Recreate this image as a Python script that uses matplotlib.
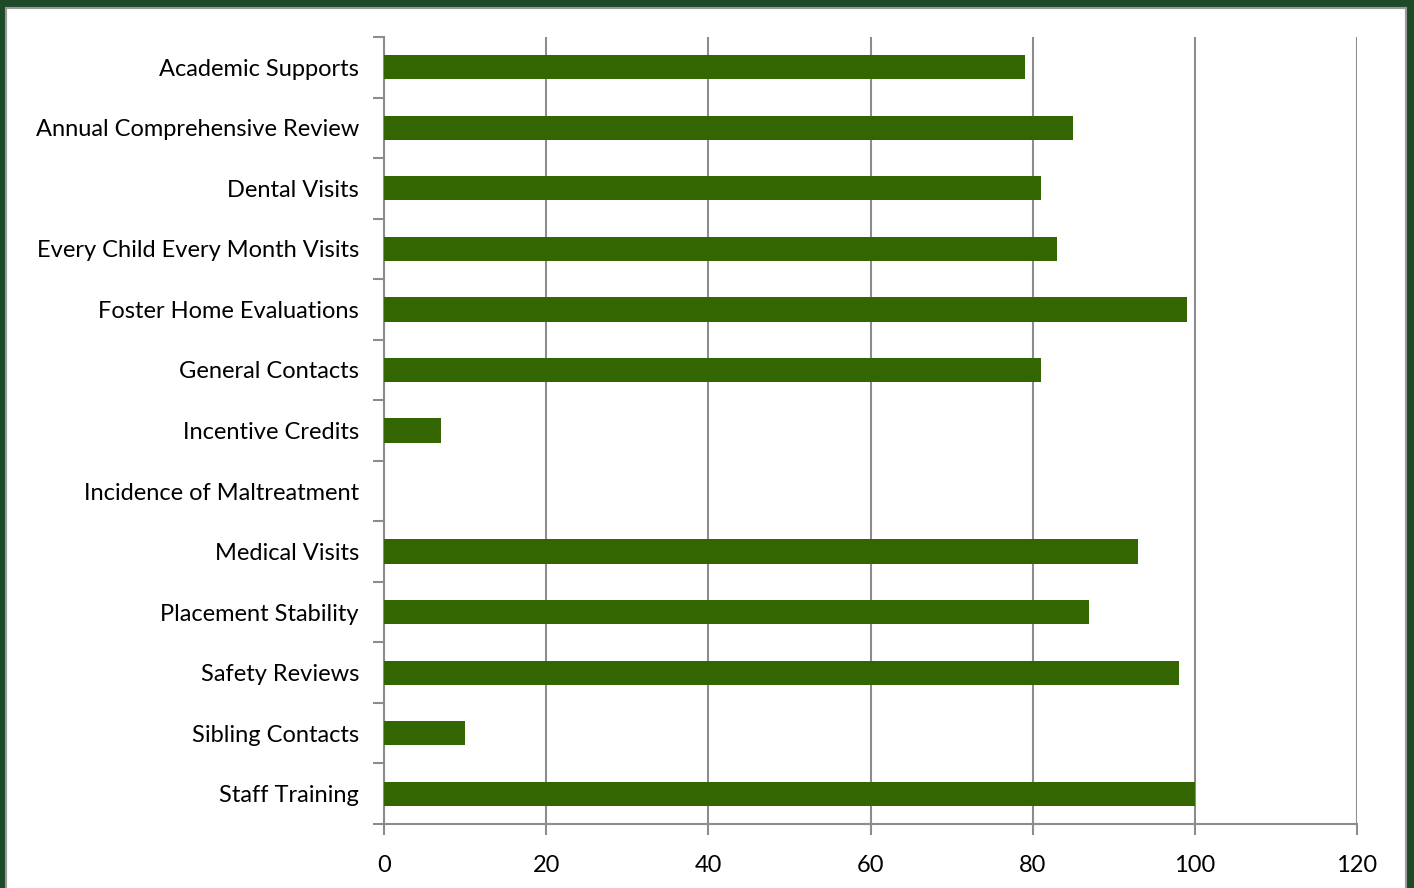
import matplotlib.pyplot as plt
from matplotlib.patches import Rectangle
import numpy as np

# data
categories = ['Academic Supports', 'Annual Comprehensive Review', 'Dental Visits',
              'Every Child Every Month Visits', 'Foster Home Evaluations',
              'General Contacts', 'Incentive Credits', 'Incidence of Maltreatment',
              'Medical Visits', 'Placement Stability', 'Safety Reviews',
              'Sibling Contacts', 'Staff Training']
values = [79, 85, 81, 83, 99, 81, 7, 0, 93, 87, 98, 10, 100]
xticks = [0, 20, 40, 60, 80, 100, 120]

plt.rcParams['font.family'] = ['Lato', 'DejaVu Sans']

fig = plt.figure(figsize=(14.14, 8.88), dpi=100)
fig.patch.set_facecolor('#1e4a28')
# white panel behind the chart
fig.add_artist(Rectangle((6 / 1414, -0.01), 1400 / 1414, 1 - 8 / 888 + 0.01,
                         transform=fig.transFigure, facecolor='white',
                         edgecolor='#9a9a9a', linewidth=1.5, zorder=-5))

ax = fig.add_axes([384 / 1414, 1 - 824 / 888, (1357 - 384) / 1414, (824 - 37) / 888])
ax.set_facecolor('none')

y = np.arange(len(categories))
ax.barh(y, values, height=0.4, color='#336600', linewidth=0, zorder=3)

ax.set_xlim(0, 120)
ax.set_ylim(len(categories) - 0.5, -0.5)
ax.set_xticks(xticks)
ax.set_xticklabels([str(t) for t in xticks], fontsize=17)
ax.xaxis.grid(True, color='#8c8c8c', linewidth=1.5, zorder=1)

ax.set_yticks(y)
ax.set_yticklabels(categories, fontsize=17)
ax.tick_params(axis='y', length=0, pad=18)
ax.set_yticks(np.arange(len(categories) + 1) - 0.5, minor=True)
ax.tick_params(axis='y', which='minor', length=8, width=1.5, color='#8c8c8c')
ax.tick_params(axis='x', length=8, width=1.5, color='#8c8c8c', pad=14)

for s in ['top', 'right']:
    ax.spines[s].set_visible(False)
for s in ['left', 'bottom']:
    ax.spines[s].set_color('#8c8c8c')
    ax.spines[s].set_linewidth(1.5)

fig.savefig('out.png', dpi=100, facecolor=fig.get_facecolor())
